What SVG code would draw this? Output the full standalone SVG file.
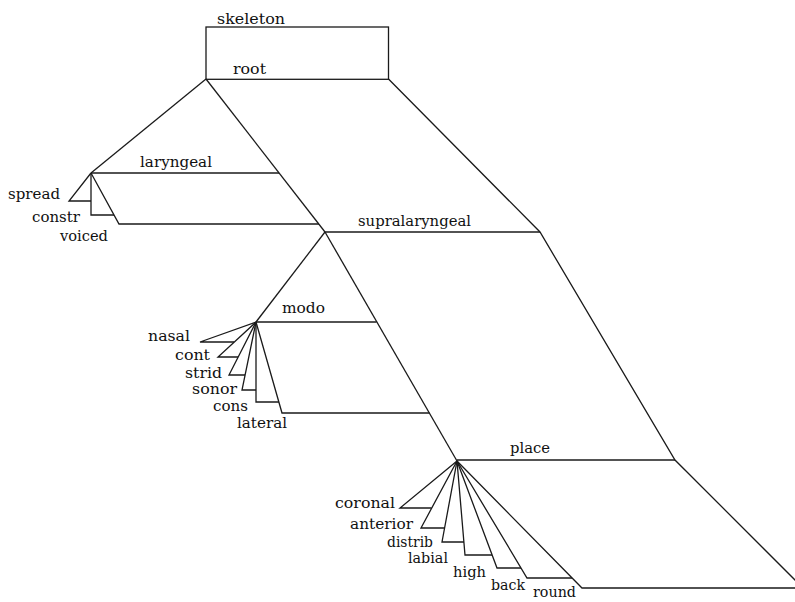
<svg xmlns="http://www.w3.org/2000/svg" width="795" height="602" viewBox="0 0 795 602">
  <style>
    .ln { fill: none; stroke: #1a1a1a; stroke-width: 1.3; stroke-linejoin: miter; }
    .lb { font-family: "DejaVu Serif", "Liberation Serif", serif; font-size: 15.5px; fill: #111; }
  </style>
  <rect width="795" height="602" fill="#ffffff"/>

  <!-- skeleton / root box -->
  <g id="root">
    <rect class="ln" x="206" y="27" width="182.5" height="52.3"/>
    <text class="lb" x="217" y="24" textLength="68" lengthAdjust="spacingAndGlyphs">skeleton</text>
    <text class="lb" x="233" y="74" textLength="33" lengthAdjust="spacingAndGlyphs">root</text>
  </g>

  <g id="laryngeal">
    <text class="lb" x="140" y="167" textLength="72" lengthAdjust="spacingAndGlyphs">laryngeal</text>
    <text class="lb" x="8" y="199" textLength="52" lengthAdjust="spacingAndGlyphs">spread</text>
    <text class="lb" x="32" y="222" textLength="48" lengthAdjust="spacingAndGlyphs">constr</text>
    <text class="lb" x="60" y="241" textLength="48" lengthAdjust="spacingAndGlyphs">voiced</text>
  </g>

  <g id="supralaryngeal">
    <text class="lb" x="358" y="226" textLength="113" lengthAdjust="spacingAndGlyphs">supralaryngeal</text>
  </g>

  <g id="modo">
    <text class="lb" x="282" y="313" textLength="43" lengthAdjust="spacingAndGlyphs">modo</text>
    <text class="lb" x="148" y="341" textLength="42" lengthAdjust="spacingAndGlyphs">nasal</text>
    <text class="lb" x="175" y="360" textLength="35" lengthAdjust="spacingAndGlyphs">cont</text>
    <text class="lb" x="185" y="378" textLength="37" lengthAdjust="spacingAndGlyphs">strid</text>
    <text class="lb" x="192" y="394" textLength="45" lengthAdjust="spacingAndGlyphs">sonor</text>
    <text class="lb" x="213" y="411" textLength="35" lengthAdjust="spacingAndGlyphs">cons</text>
    <text class="lb" x="237" y="428" textLength="50" lengthAdjust="spacingAndGlyphs">lateral</text>
  </g>

  <g id="place">
    <text class="lb" x="510" y="453" textLength="40" lengthAdjust="spacingAndGlyphs">place</text>
    <text class="lb" x="335" y="508" textLength="60" lengthAdjust="spacingAndGlyphs">coronal</text>
    <text class="lb" x="350" y="529" textLength="63" lengthAdjust="spacingAndGlyphs">anterior</text>
    <text class="lb" x="387" y="547" textLength="46" lengthAdjust="spacingAndGlyphs">distrib</text>
    <text class="lb" x="408" y="563" textLength="40" lengthAdjust="spacingAndGlyphs">labial</text>
    <text class="lb" x="453" y="577" textLength="33" lengthAdjust="spacingAndGlyphs">high</text>
    <text class="lb" x="491" y="590" textLength="34" lengthAdjust="spacingAndGlyphs">back</text>
    <text class="lb" x="533" y="597" textLength="43" lengthAdjust="spacingAndGlyphs">round</text>
  </g>

  <g id="connectors">
    <!-- main spine: root -> laryngeal / supralaryngeal -> modo / place -->
    <line class="ln" x1="206" y1="79" x2="91" y2="173"/>
    <line class="ln" x1="206" y1="79" x2="325" y2="232"/>
    <line class="ln" x1="325" y1="232" x2="256" y2="322"/>
    <line class="ln" x1="325" y1="232" x2="457" y2="461"/>
    <!-- right-hand edge -->
    <polyline class="ln" points="388.5,79 540,232 675,460 804,589"/>
    <!-- tier planes -->
    <line class="ln" x1="91" y1="173" x2="279" y2="173"/>
    <line class="ln" x1="325" y1="232" x2="540" y2="232"/>
    <line class="ln" x1="256" y1="322" x2="376.5" y2="322"/>
    <line class="ln" x1="457" y1="460" x2="675" y2="460"/>

    <!-- laryngeal fan -->
    <polyline class="ln" points="91,173 69,201 91,201"/>
    <polyline class="ln" points="91,173 91,215 114,215"/>
    <polyline class="ln" points="91,173 119,224 319,224"/>

    <!-- modo fan -->
    <polyline class="ln" points="256,322 200,342 234,342"/>
    <polyline class="ln" points="256,322 218,357 238,357"/>
    <polyline class="ln" points="256,322 229,375 245,375"/>
    <polyline class="ln" points="256,322 242,390 256,390"/>
    <polyline class="ln" points="256,322 256,402 279,402"/>
    <polyline class="ln" points="256,322 282,413 429.5,413"/>

    <!-- place fan -->
    <polyline class="ln" points="457,461 400,508 431.5,508"/>
    <polyline class="ln" points="457,461 421,528 444.5,528"/>
    <polyline class="ln" points="457,461 442,542 464,542"/>
    <polyline class="ln" points="457,461 465,555 492,555"/>
    <polyline class="ln" points="457,461 497,568 521,568"/>
    <polyline class="ln" points="457,461 527,578 572,578"/>
    <polyline class="ln" points="457,461 582,588 800,588"/>
  </g>
</svg>
